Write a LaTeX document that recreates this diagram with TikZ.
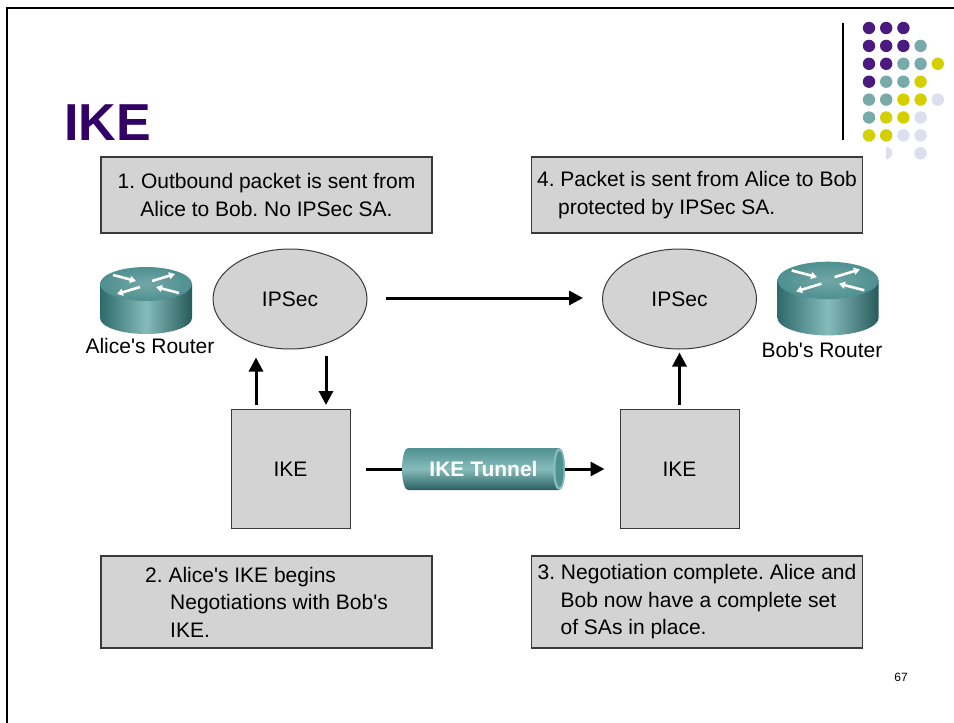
\documentclass[tikz,border=0pt]{standalone}
\usepackage{fontspec}
\setmainfont{Liberation Sans}
\usetikzlibrary{shapes.geometric,arrows.meta,calc}
\frenchspacing

\definecolor{titlepurple}{HTML}{330066}
\definecolor{boxgray}{HTML}{D3D3D3}
\definecolor{edgegray}{HTML}{3A3A3A}
\definecolor{dotP}{HTML}{4B1A80}
\definecolor{dotT}{HTML}{78AAAA}
\definecolor{dotY}{HTML}{D4D000}
\definecolor{dotL}{HTML}{DEDEEE}
\definecolor{tealdark}{HTML}{2E6A6B}
\definecolor{tealmid}{HTML}{4F9090}
\definecolor{teallight}{HTML}{86BBBB}

\newcommand{\apos}{\textquotesingle}

\tikzset{
  routertop/.style={line width=2.6pt,white,-{Triangle[length=6pt,width=7pt]}},
  router/.pic={
    % cylinder body with a vertical highlight
    \shade[left color=tealdark, right color=tealdark!85!black, middle color=teallight]
      (-46,-16) -- (-46,18) arc[start angle=180,end angle=0,x radius=46,y radius=16] -- (46,-16) -- cycle;
    % top face
    \shade[inner color=tealmid!80!white, outer color=tealmid] (0,-16) ellipse[x radius=46,y radius=17];
    % direction arrows on the top face
    \draw[routertop] (-33,-25) -- (-10,-19);
    \draw[routertop] (33,-7) -- (10,-13);
    \draw[routertop] (6,-19) -- (29,-26);
    \draw[routertop] (-6,-13) -- (-29,-6);
  }
}

\begin{document}
\begin{tikzpicture}[x=1pt,y=-1pt,
  txt/.style={font=\fontsize{21}{27.5}\selectfont},
  notebox/.style={txt,draw=edgegray,fill=boxgray,line width=1.3pt,minimum width=331pt,inner sep=0pt},
  ipsec/.style={txt,ellipse,draw=edgegray,fill=boxgray,line width=1pt,minimum width=154pt,minimum height=100pt,inner sep=0pt},
  ikebox/.style={txt,rectangle,draw=edgegray,fill=boxgray,line width=1pt,minimum width=119pt,minimum height=119pt,inner sep=0pt},
  flow/.style={line width=3pt,-{Triangle[length=14pt,width=14pt]}},
  plain/.style={line width=3pt}
]
\useasboundingbox (0,0) rectangle (954,723);
\fill[white] (0,0) rectangle (954,723);

% slide frame
\draw[line width=2pt] (7,723) -- (7,8) -- (954,8);

% decorative dot grid and rule
\draw[line width=1.5pt] (843,23) -- (843,140);
\foreach \c/\r/\col in {0/0/dotP,1/0/dotP,2/0/dotP,
  0/1/dotP,1/1/dotP,2/1/dotP,3/1/dotT,
  0/2/dotP,1/2/dotP,2/2/dotT,3/2/dotT,4/2/dotY,
  0/3/dotP,1/3/dotT,2/3/dotT,3/3/dotY,
  0/4/dotT,1/4/dotT,2/4/dotY,3/4/dotY,4/4/dotL,
  0/5/dotT,1/5/dotY,2/5/dotY,3/5/dotL,
  0/6/dotY,1/6/dotY,2/6/dotL,3/6/dotL,
  3/7/dotL}
  \fill[\col] (869+17.2*\c,28+17.9*\r) circle[radius=6.2];
\begin{scope}
  \clip (886,140) rectangle (900,165);
  \fill[dotL] (886,153) circle[radius=6.2];
\end{scope}

% title
\node[anchor=base west,text=titlepurple,font=\fontsize{52}{52}\bfseries\selectfont,inner sep=0pt] (title) at (64,140) {IKE};

% step notes
\node[notebox,minimum height=76pt,align=center] (n1) at (266.5,195) {1. Outbound packet is sent from\\Alice to Bob. No IPSec SA.};
\node[notebox,minimum height=76pt,align=left] (n4) at (697,195) {4. Packet is sent from Alice to Bob\\\hspace*{21pt}protected by IPSec SA.};
\node[notebox,minimum height=92pt,align=left] (n2) at (266.5,602) {2. Alice\apos s IKE begins\\\hspace*{25pt}Negotiations with Bob\apos s\\\hspace*{25pt}IKE.};
\node[notebox,minimum height=92pt,align=left] (n3) at (697,602) {3. Negotiation complete. Alice and\\\hspace*{23pt}Bob now have a complete set\\\hspace*{23pt}of SAs in place.};

% routers
\pic at (146,300) {router};
\pic[scale=1.1] at (828,298) {router};
\node[txt,inner sep=0pt] (lblA) at (150,346) {Alice\apos s Router};
\node[txt,inner sep=0pt] (lblB) at (822,350) {Bob\apos s Router};

% IPSec and IKE processes
\node[ipsec] (ipA) at (290,299) {IPSec};
\node[ipsec] (ipB) at (679.5,299) {IPSec};
\node[ikebox] (ikeA) at (290.5,469) {IKE};
\node[ikebox] (ikeB) at (679.5,469) {IKE};

% IKE tunnel cylinder
\shade[top color=tealmid, bottom color=tealdark!90!black, middle color=teallight]
  (408,448) -- (559,448) arc[start angle=270,end angle=450,x radius=6,y radius=21]
  -- (408,490) arc[start angle=90,end angle=270,x radius=6,y radius=21] -- cycle;
\fill[teallight] (559,469) ellipse[x radius=6,y radius=21];
\fill[tealmid] (559.5,469) ellipse[x radius=4,y radius=18];
\node[text=white,font=\fontsize{21}{21}\bfseries\selectfont,minimum width=163pt,minimum height=42pt,inner sep=0pt] (tun) at (483.5,469) {IKE Tunnel};

% connectors
\draw[flow,shorten <=18pt,shorten >=19pt] (ipA.east |- 0,298) -- (ipB.west |- 0,298);
\draw[flow,shorten <=4pt,shorten >=8pt] ([xshift=-34.5pt]ikeA.north) -- ([xshift=-34.5pt]ikeA.north |- ipA.south);
\draw[flow,shorten <=6pt,shorten >=4pt] ([xshift=35.5pt]ikeA.north |- ipA.south) -- ([xshift=35.5pt]ikeA.north);
\draw[flow,shorten <=4pt,shorten >=3pt] (ikeB.north) -- (ipB.south);
\draw[plain,shorten <=15pt] (ikeA.east) -- (tun.west);
\draw[flow,shorten >=15pt] (tun.east) -- (ikeB.west);

% page number
\node[font=\fontsize{12}{12}\selectfont,inner sep=0pt] (pg) at (901,677) {67};
\end{tikzpicture}
\end{document}
